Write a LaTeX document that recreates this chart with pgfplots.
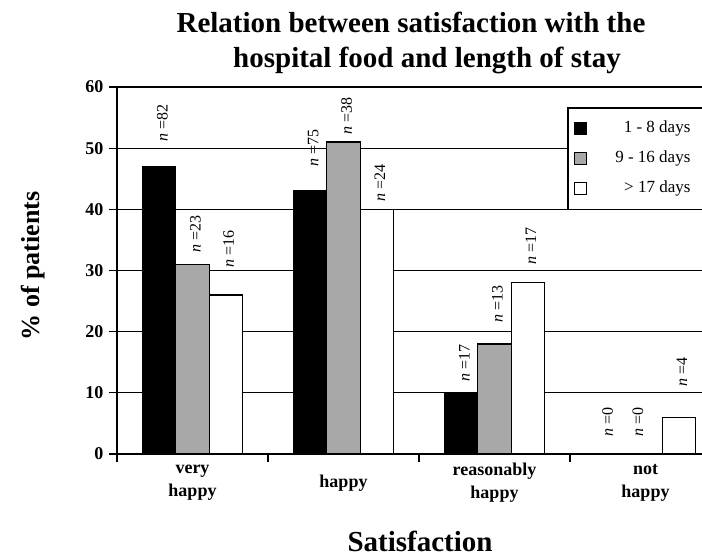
\documentclass[border=0pt]{standalone}
\usepackage{pgfplots}
\pgfplotsset{compat=1.18}
\usepackage{fontspec}
\setmainfont{Liberation Serif}
\newcommand\fs[1]{\fontsize{#1}{#1}\selectfont}
% legend text set flush right
\newcommand\legtext[1]{\makebox[101pt][r]{#1}}

% share of patients (%) per satisfaction level, by length of stay
\pgfplotstableread{
x  y
0  47
1  43
2  10
3  0
}\shortstay
\pgfplotstableread{
x  y
0  31
1  51
2  18
3  0
}\midstay
\pgfplotstableread{
x  y
0  26
1  40
2  28
3  6
}\longstay
% group sizes written above the bars (x = bar centre, y = foot of the label)
\pgfplotstableread{
x       y     label
-0.20   51.0  {\textit{n} =82}
0.02    32.9  {\textit{n} =23}
0.24    30.4  {\textit{n} =16}
0.80    46.9  {\textit{n} =75}
1.02    52.2  {\textit{n} =38}
1.24    41.2  {\textit{n} =24}
1.80    11.8  {\textit{n} =17}
2.02    21.4  {\textit{n} =13}
2.24    30.9  {\textit{n} =17}
2.75    2.8   {\textit{n} =0}
2.95    2.8   {\textit{n} =0}
3.24    11.0  {\textit{n} =4}
}\counts

\begin{document}
\begin{tikzpicture}[x=1pt,y=1pt]
\begin{axis}[
  at={(117pt,104pt)}, anchor=south west,
  scale only axis, width=604pt, height=367pt,
  xmin=-0.5, xmax=3.5, ymin=0, ymax=60,
  axis x line*=bottom, axis y line*=left,
  axis line style={black, line width=1.3pt},
  tick style={black, line width=1.2pt},
  tick align=outside, major tick length=8pt,
  ytick={0,10,...,60},
  ymajorgrids, major grid style={black, line width=1.2pt},
  yticklabel style={font=\fs{18}\bfseries, xshift=-2pt},
  /pgf/number format/assume math mode=true,
  xtick={-0.5,0.5,1.5,2.5}, xticklabels={},
  extra x ticks={0,1,2,3},
  extra x tick labels={very\\happy, happy, reasonably\\happy, not\\happy},
  extra x tick style={major tick length=0pt},
  xticklabel style={font=\fontsize{18}{23}\selectfont\bfseries,
    align=center, anchor=center, yshift=-29pt},
  legend style={name=leg, at={(rel axis cs:0.7467,0.9428)}, anchor=north west,
    draw=none, fill=white,
    font=\fs{17}, inner xsep=6pt, inner ysep=10.5pt, row sep=10pt,
    nodes={text height=12pt, text depth=4pt, inner sep=2pt}},
  legend image code/.code={\draw[#1, line width=1.2pt] (1pt,-6pt) rectangle (13pt,6pt);},
]
\addplot[ybar, bar width=0.222, bar shift=-0.222, fill=black, draw=black, line width=1.2pt]
  table[x=x, y=y] {\shortstay};
\addlegendentry{\legtext{1 - 8 days}}
\addplot[ybar, bar width=0.222, bar shift=0, fill={rgb,255:red,168;green,168;blue,168}, draw=black, line width=1.2pt]
  table[x=x, y=y] {\midstay};
\addlegendentry{\legtext{9 - 16 days}}
\addplot[ybar, bar width=0.222, bar shift=0.222, fill=white, draw=black, line width=1.2pt]
  table[x=x, y=y] {\longstay};
\addlegendentry{\legtext{> 17 days}}
\addplot[draw=none, mark=none, forget plot,
  nodes near coords, point meta=explicit symbolic,
  nodes near coords style={rotate=90, anchor=west, inner sep=0pt, font=\fs{16}}]
  table[x=x, y=y, meta=label] {\counts};
\end{axis}
% legend frame, open on the right where the chart runs off the page
\fill[white] ([xshift=-3pt]leg.north east) rectangle ([xshift=30pt]leg.south east);
\draw[black, line width=1.2pt] ([xshift=30pt]leg.north east) -- (leg.north west)
  -- (leg.south west) -- ([xshift=30pt]leg.south east);
\node[anchor=base, font=\fs{29}\bfseries] at (411pt,525pt) {Relation between satisfaction with the};
\node[anchor=base, font=\fs{29}\bfseries] at (427pt,490pt) {hospital food and length of stay};
\node[rotate=90, font=\fs{26}\bfseries] at (33pt,292pt) {\% of patients};
\node[font=\fs{29}\bfseries] at (420pt,17pt) {Satisfaction};
\pgfresetboundingbox
\useasboundingbox (0,0) rectangle (702pt,558pt);
\end{tikzpicture}
\end{document}
